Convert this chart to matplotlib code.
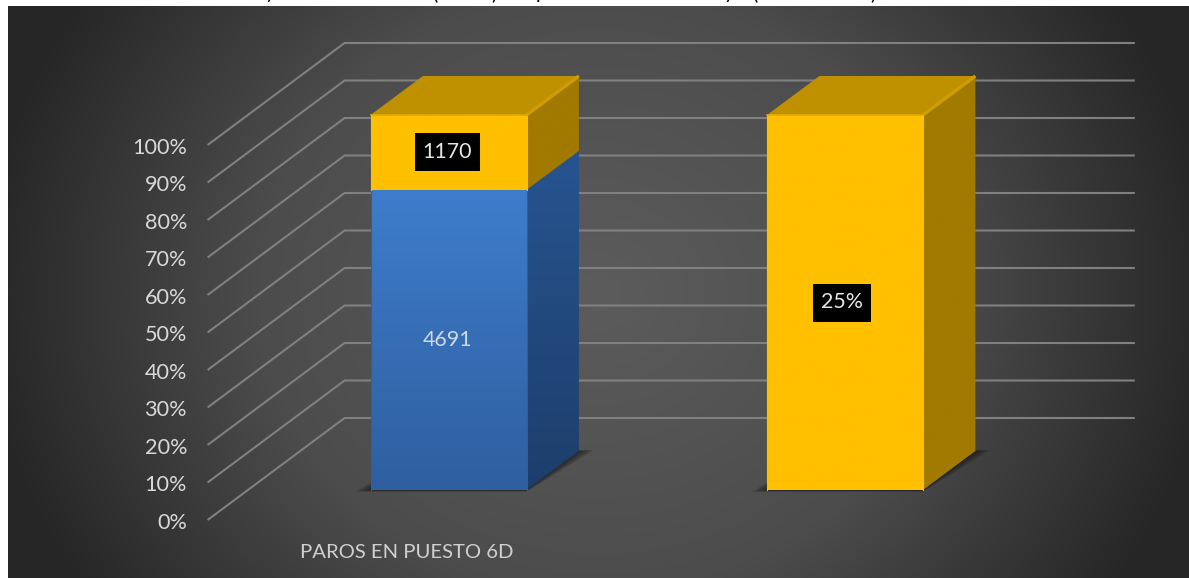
import numpy as np
import matplotlib
matplotlib.use("Agg")
import matplotlib.pyplot as plt
from matplotlib.colors import LinearSegmentedColormap
from matplotlib.patches import Polygon, Rectangle

# Chart data
categories = ["PAROS EN PUESTO 6D", ""]
blue_values = [4691, 0]
yellow_values = [1170, 25]
blue_labels = ["4691", ""]
yellow_labels = ["1170", "25%"]
tick_percents = [0, 10, 20, 30, 40, 50, 60, 70, 80, 90, 100]

# Canvas and oblique projection settings (pixels)
W, H = 1189, 578
PX_PER_CAT = 396.5
PX_PER_PCT = 3.75
CAT0_PX = 448.5
ZERO_PX = 490.0
DEPTH_DX, DEPTH_DY = 137.0, 102.0
FLOOR_FRONT = -30.0 / DEPTH_DY
FLOOR_BACK = FLOOR_FRONT + 1.0
BAR_DEPTH = 39.0 / DEPTH_DY
BAR_WIDTH = 156.0 / PX_PER_CAT

fig = plt.figure(figsize=(W / 100, H / 100), dpi=100, facecolor="white")
ax = fig.add_axes([0, 0, 1, 1])
ax.set_xlim((0 - CAT0_PX) / PX_PER_CAT, (W - CAT0_PX) / PX_PER_CAT)
ax.set_ylim((ZERO_PX - H) / PX_PER_PCT, ZERO_PX / PX_PER_PCT)
ax.axis("off")
plt.rcParams["font.family"] = ["Lato", "DejaVu Sans"]


def px_x(px):
    return (px - CAT0_PX) / PX_PER_CAT


def px_y(py):
    return (ZERO_PX - py) / PX_PER_PCT


def proj(cat, pct, depth=0.0):
    """Map a category/percent/depth position to the oblique drawing plane."""
    return (cat + depth * DEPTH_DX / PX_PER_CAT, pct + depth * DEPTH_DY / PX_PER_PCT)


def gradient_fill(points, start, end, zorder):
    """Fill a polygon with a linear gradient running down its extent."""
    pts = np.array(points)
    cmap = LinearSegmentedColormap.from_list("face", [start, end])
    ramp = np.linspace(0, 1, 256).reshape(-1, 1)
    extent = [pts[:, 0].min(), pts[:, 0].max(), pts[:, 1].min(), pts[:, 1].max()]
    im = ax.imshow(ramp, cmap=cmap, extent=extent, origin="upper", aspect="auto",
                   zorder=zorder, interpolation="bilinear")
    clip = Polygon(pts, closed=True, transform=ax.transData, fc="none", ec="none")
    ax.add_patch(clip)
    im.set_clip_path(clip)


# Dark radial background, stretched horizontally
gx = np.linspace(-1, 1, 600)
gy = np.linspace(-1, 1, 300)
xx, yy = np.meshgrid(gx, gy)
radius = np.clip(np.sqrt(xx ** 2 + (0.55 * yy) ** 2) / 1.05, 0, 1)
bg_cmap = LinearSegmentedColormap.from_list(
    "bg", [(0.0, "#5c5c5c"), (0.55, "#4c4c4c"), (1.0, "#262626")])
ax.imshow(radius, cmap=bg_cmap, vmin=0, vmax=1, aspect="auto", zorder=0,
          extent=[px_x(8), px_x(W), px_y(H), px_y(7)], interpolation="bilinear")

# Gridlines: side wall and back wall
cat_left, cat_right = -0.506, 1.487
for pct in tick_percents:
    p0 = proj(cat_left, pct, FLOOR_FRONT)
    p1 = proj(cat_left, pct, FLOOR_BACK)
    p2 = proj(cat_right, pct, FLOOR_BACK)
    ax.plot([p0[0], p1[0], p2[0]], [p0[1], p1[1], p2[1]], color="#808080", lw=1.5,
            zorder=1, solid_joinstyle="miter", solid_capstyle="butt")
    ax.text(px_x(187), p0[1] - 0.75, f"{pct}%", ha="right", va="center",
            color="#d9d9d9", fontsize=15.6, zorder=6)


def draw_segment(cat, low, high, front, side, top=None):
    left = cat - BAR_WIDTH / 2
    right = cat + BAR_WIDTH / 2
    gradient_fill([proj(left, low), proj(right, low), proj(right, high), proj(left, high)],
                  front[0], front[1], 3)
    gradient_fill([proj(right, low), proj(right, low, BAR_DEPTH),
                   proj(right, high, BAR_DEPTH), proj(right, high)],
                  side[0], side[1], 3)
    edge = front[1]
    ax.plot(*zip(proj(left, low), proj(left, high)), color=edge, lw=0.8, zorder=4)
    ax.plot(*zip(proj(right, low), proj(right, high)), color=edge, lw=0.8, zorder=4)
    if top:
        ax.add_patch(Polygon([proj(left, high), proj(right, high),
                              proj(right, high, BAR_DEPTH), proj(left, high, BAR_DEPTH)],
                             closed=True, fc=top, ec="none", zorder=3))
        ax.plot(*zip(proj(right, high), proj(right, high, BAR_DEPTH)),
                color="#cf9d00", lw=2.4, zorder=4, solid_capstyle="butt")
        ax.plot(*zip(proj(left, high), proj(right, high)), color="#e0aa00", lw=1.2, zorder=4)


BLUE_FRONT = ("#3e7dcc", "#2f5f9f")
BLUE_SIDE = ("#275490", "#1d3e6b")
YELLOW_FRONT = ("#ffc000", "#ffc000")
YELLOW_SIDE = ("#a27a00", "#a27a00")
YELLOW_TOP = "#bf9000"


def value_box(cat, pct, text, width_px, height_px=38):
    w = width_px / PX_PER_CAT
    h = height_px / PX_PER_PCT
    ax.add_patch(Rectangle((cat - w / 2 - 0.003, pct - h / 2), w, h, fc="black",
                           ec="none", zorder=5))
    ax.text(cat - 0.003, pct, text, ha="center", va="center", color="#e6e6e6",
            fontsize=15.4, zorder=6)


widths = [65, 58]
for i, (blue, yellow) in enumerate(zip(blue_values, yellow_values)):
    total = blue + yellow
    blue_pct = 100.0 * blue / total

    # Soft contact shadow on the floor
    left = i - BAR_WIDTH / 2
    right = i + BAR_WIDTH / 2
    for grow in np.linspace(0.0, 0.04, 12):
        ax.add_patch(Polygon([proj(left - grow, -grow * 12), proj(right, -grow * 12),
                              proj(right + grow, grow * 6, BAR_DEPTH),
                              proj(left, grow * 6, BAR_DEPTH)],
                             closed=True, fc="#111111", ec="none", alpha=0.07, zorder=2))

    if blue > 0:
        draw_segment(i, 0, blue_pct, BLUE_FRONT, BLUE_SIDE)
        ax.text(i - 0.003, blue_pct / 2, blue_labels[i], ha="center", va="center",
                color="#cfd8e6", fontsize=15.4, zorder=6)
    draw_segment(i, blue_pct, 100, YELLOW_FRONT, YELLOW_SIDE, YELLOW_TOP)
    value_box(i - (0.0 if i == 0 else 0.005), (blue_pct + 100) / 2, yellow_labels[i], widths[i])

# Category label
ax.text(px_x(406.5), px_y(552), categories[0], ha="center", va="center",
        color="#d0d0d0", fontsize=14.6, zorder=6)

# Bottom edges of the heading cut off by the top of the frame
for glyph, x_pos in [("y", 270), ("(", 435), (")", 494), ("p", 541),
                     ("y", 729), ("(", 755), (")", 873)]:
    fig.text(x_pos / W, 1 + 1 / H, glyph, ha="center", va="baseline",
             color="black", fontsize=14.5)

fig.savefig("out.png", dpi=100, facecolor="white")
